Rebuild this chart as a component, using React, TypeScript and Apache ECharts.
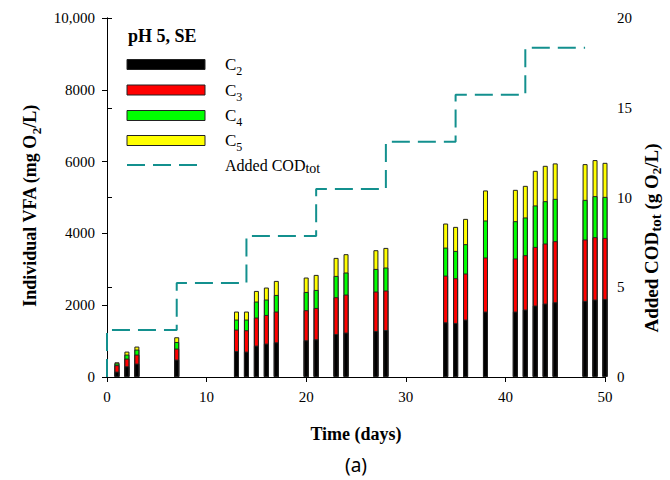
import React, { useEffect, useRef } from "react";
import * as echarts from "echarts";

const days = [1, 2, 3, 7, 13, 14, 15, 16, 17, 20, 21, 23, 24, 27, 28, 34, 35, 36, 38, 41, 42, 43, 44, 45, 48, 49, 50];
const c2 = [150, 298, 374, 485, 725, 708, 875, 931, 967, 1023, 1051, 1199, 1238, 1283, 1310, 1525, 1506, 1600, 1823, 1823, 1879, 1991, 2046, 2083, 2119, 2158, 2175];
const c3 = [180, 215, 251, 307, 596, 594, 781, 798, 856, 837, 873, 1023, 1059, 1098, 1099, 1300, 1246, 1283, 1506, 1478, 1514, 1633, 1673, 1700, 1712, 1737, 1700];
const c4 = [50, 112, 139, 184, 279, 298, 446, 429, 463, 510, 502, 594, 614, 630, 641, 780, 761, 817, 1031, 1040, 1051, 1155, 1179, 1180, 1104, 1143, 1143];
const c5 = [30, 83, 84, 131, 223, 223, 296, 334, 391, 401, 418, 502, 510, 521, 546, 670, 669, 705, 837, 873, 881, 964, 985, 987, 995, 1004, 948];

const feedDays = [0, 7, 14, 21, 28, 35, 42];
const codAdded = [2.62, 5.24, 7.86, 10.48, 13.1, 15.72, 18.34];
const codEndDay = 48;

const xTicks = { min: 0, max: 50, interval: 10 };
const yLeftTicks = { min: 0, max: 10000, interval: 2000 };
const yRightTicks = { min: 0, max: 20, interval: 5 };

const seriesNames = ["C2", "C3", "C4", "C5"];
const seriesColors = ["#000000", "#ff0000", "#00ff00", "#ffff00"];
const teal = "#13908e";
const SERIF = "'Liberation Serif', 'Times New Roman', serif";

export default function App() {
  const ref = useRef<HTMLDivElement>(null);

  useEffect(() => {
    if (!ref.current) return;
    const chart = echarts.init(ref.current, null, { renderer: "svg" });

    const codPoints: number[][] = [[feedDays[0], 0]];
    feedDays.forEach((d, i) => {
      codPoints.push([d, codAdded[i]]);
      const next = i + 1 < feedDays.length ? feedDays[i + 1] : codEndDay;
      codPoints.push([next, codAdded[i]]);
    });

    // cumulative tops for stacking (drawn top-down so lower segments overlay)
    const vals = [c2, c3, c4, c5];
    const cum: number[][] = [];
    vals.forEach((arr, k) => {
      cum.push(arr.map((v, i) => v + (k > 0 ? cum[k - 1][i] : 0)));
    });
    const barSeries = [3, 2, 1, 0].map((k) => ({
      name: seriesNames[k],
      type: "bar",
      xAxisIndex: 0,
      yAxisIndex: 0,
      barWidth: 5,
      barGap: "-100%",
      data: days.map((d, i) => [d, cum[k][i]]),
      itemStyle: { color: seriesColors[k], borderColor: "#222", borderWidth: 1 },
      z: 2,
    }));

    const axisCommon = {
      axisLine: { show: true, lineStyle: { color: "#000", width: 1 } },
      axisTick: { show: true, inside: false, length: 5, lineStyle: { color: "#000" } },
      splitLine: { show: false },
      axisLabel: { color: "#000", fontFamily: SERIF, fontSize: 15, margin: 12 },
    };

    const subRich = (size: number, lh: number, subSize?: number) => {
      const ss = subSize || Math.round(size * 0.7);
      return {
        n: { fontSize: size, fontFamily: SERIF, lineHeight: lh, color: "#000" },
        s: { fontSize: ss, fontFamily: SERIF, lineHeight: ss, verticalAlign: "bottom", color: "#000" },
        nb: { fontSize: size, fontFamily: SERIF, fontWeight: "bold", lineHeight: lh, color: "#000" },
        sb: { fontSize: ss, fontFamily: SERIF, fontWeight: "bold", lineHeight: ss, verticalAlign: "bottom", color: "#000" },
        sb2: { fontSize: Math.round(size * 0.7), fontFamily: SERIF, fontWeight: "bold", lineHeight: Math.round(size * 0.7), verticalAlign: "bottom", color: "#000" },
      };
    };

    const legendRows = [64.5, 90, 115.5, 140.5];
    const legendGraphics: any[] = [];
    legendGraphics.push({
      type: "text",
      left: 128,
      top: 27,
      style: { text: "pH 5, SE", fontFamily: SERIF, fontSize: 18, fontWeight: "bold", fill: "#000" },
    });
    legendRows.forEach((cy, k) => {
      legendGraphics.push({
        type: "rect",
        shape: { x: 127, y: cy - 5, width: 78, height: 10 },
        style: { fill: seriesColors[k], stroke: "#222", lineWidth: 1 },
      });
      legendGraphics.push({
        type: "text",
        x: 225,
        y: cy,
        style: {
          text: "{n|C}{s|" + seriesNames[k].slice(1) + "}",
          rich: subRich(17, 25),
          align: "left",
          verticalAlign: "middle",
        },
      });
    });
    legendGraphics.push({
      type: "line",
      shape: { x1: 127, y1: 165, x2: 200, y2: 165 },
      style: { stroke: teal, lineWidth: 2, lineDash: [18, 8] },
    });
    legendGraphics.push({
      type: "text",
      x: 225,
      y: 165,
      style: {
        text: "{n|Added COD}{s|tot}",
        rich: subRich(16, 20, 14),
        align: "left",
        verticalAlign: "middle",
      },
    });

    const titleGraphics: any[] = [
      {
        type: "text",
        x: 30,
        y: 206,
        rotation: Math.PI / 2,
        style: {
          text: "{nb|Individual VFA (mg O}{sb|2}{nb|/L)}",
          rich: subRich(18, 26),
          align: "center",
          verticalAlign: "middle",
        },
      },
      {
        type: "text",
        x: 651,
        y: 238,
        rotation: Math.PI / 2,
        style: {
          text: "{nb|Added COD}{sb|tot}{nb| (g O}{sb2|2}{nb|/L)}",
          rich: subRich(19, 24, 15),
          align: "center",
          verticalAlign: "middle",
        },
      },
      {
        type: "text",
        x: 356,
        y: 434,
        style: {
          text: "Time (days)",
          fontFamily: SERIF,
          fontSize: 18,
          fontWeight: "bold",
          fill: "#000",
          align: "center",
          verticalAlign: "middle",
        },
      },
      {
        type: "text",
        x: 356,
        y: 465,
        style: {
          text: "(a)",
          fontFamily: "'Noto Sans', sans-serif",
          fontSize: 19,
          fill: "#000",
          align: "center",
          verticalAlign: "middle",
        },
      },
    ];

    chart.setOption({
      animation: false,
      backgroundColor: "#fff",
      grid: { left: 107, right: 65, top: 18, bottom: 103, containLabel: false },
      xAxis: [
        { type: "value", ...xTicks, ...axisCommon },
        {
          type: "value",
          position: "top",
          ...xTicks,
          axisLine: { show: true, lineStyle: { color: "#000", width: 1 } },
          axisTick: { show: false },
          axisLabel: { show: false },
          splitLine: { show: false },
        },
      ],
      yAxis: [
        {
          type: "value",
          position: "left",
          ...yLeftTicks,
          ...axisCommon,
          axisLabel: {
            ...axisCommon.axisLabel,
            formatter: (v: number) => (v >= 10000 ? "10,000" : String(v)),
          },
        },
        { type: "value", position: "right", ...yRightTicks, ...axisCommon },
      ],
      series: [
        ...barSeries,
        {
          name: "Added CODtot",
          type: "line",
          xAxisIndex: 0,
          yAxisIndex: 1,
          data: codPoints,
          symbol: "none",
          lineStyle: { color: teal, width: 2, type: [18, 8] },
          z: 3,
        },
      ],
      graphic: [...legendGraphics, ...titleGraphics],
    });

    return () => chart.dispose();
  }, []);

  return <div ref={ref} style={{ width: 670, height: 480, position: "absolute", left: 0, top: 0 }} />;
}
